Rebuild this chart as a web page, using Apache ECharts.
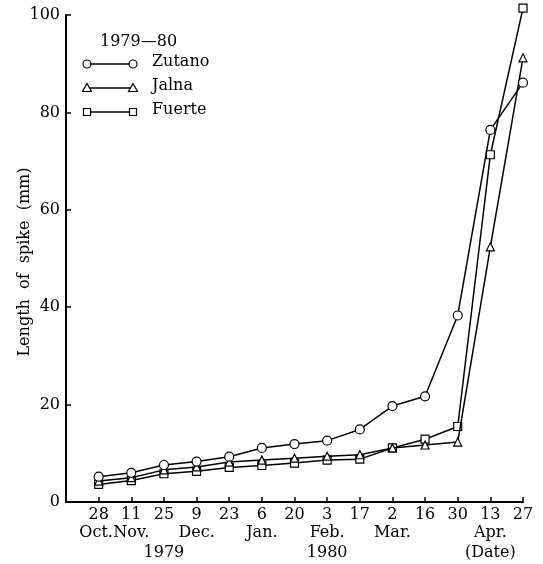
<!DOCTYPE html>
<html><head><meta charset="utf-8">
<script src="https://cdn.jsdelivr.net/npm/echarts@6/dist/echarts.min.js"></script>
<style>html,body{margin:0;padding:0;background:#fff}#c{width:543px;height:564px}</style>
</head><body><div id="c"></div>
<script>
const dates = ['28','11','25','9','23','6','20','3','17','2','16','30','13','27'];
const months = ['Oct. ','Nov.','','Dec.','','Jan.','','Feb.','','Mar.','','','Apr.',''];
const years = ['','','1979','','','','','1980','','','','','(Date)',''];
const zutano = [5.2,6.0,7.6,8.3,9.3,11.1,11.9,12.6,14.9,19.7,21.7,38.3,76.4,86.1];
const jalna  = [4.3,5.0,6.6,7.2,8.2,8.6,9.0,9.4,9.7,11.1,11.7,12.3,52.4,91.2];
const fuerte = [3.6,4.4,5.8,6.3,7.1,7.5,8.0,8.6,8.8,11.1,12.9,15.5,71.3,101.4];
const seriesNames = ['Zutano','Jalna','Fuerte'];
const legendTitle = '1979\u201480';
const yName = 'Length  of  spike  (mm)';

const FONT = 'DejaVu Serif';
const chart = echarts.init(document.getElementById('c'), null, {renderer:'canvas'});
const sym = ['circle','triangle','rect'];
const symSize = [9,8,8];
const dataSets = [zutano, jalna, fuerte];

function pick(arr){
  return (v)=>{ const i = Math.round(v); return (i>=0 && i<arr.length) ? arr[i] : ''; };
}

const lg = [];
lg.push({type:'text', left:100, top:34, style:{text:legendTitle, font:'16px "'+FONT+'"', fill:'#000'}});
const rowY = [64, 88, 112];
for (let k=0;k<3;k++){
  const y = rowY[k];
  lg.push({type:'line', shape:{x1:87,y1:y,x2:133,y2:y}, style:{stroke:'#000', lineWidth:1.5}});
  [87,133].forEach(x=>{
    if (k===0) lg.push({type:'circle', shape:{cx:x,cy:y,r:4}, style:{fill:'#fff',stroke:'#000',lineWidth:1.2}});
    else if (k===1) lg.push({type:'polygon', shape:{points:[[x,y-4.5],[x-4.5,y+3.5],[x+4.5,y+3.5]]}, style:{fill:'#fff',stroke:'#000',lineWidth:1.2}});
    else lg.push({type:'rect', shape:{x:x-3.5,y:y-3.5,width:7,height:7}, style:{fill:'#fff',stroke:'#000',lineWidth:1.2}});
  });
  lg.push({type:'text', left:152, top:y-10, style:{text:seriesNames[k], font:'16px "'+FONT+'"', fill:'#000'}});
}
lg.push({type:'text', x:25, y:262, rotation:Math.PI/2, style:{text:yName, font:'16px "'+FONT+'"', fill:'#000', textAlign:'center', textVerticalAlign:'middle'}});

const baseX = {type:'value', min:-1, max:13, interval:1, splitLine:{show:false}, position:'bottom'};
const lblStyle = {color:'#000', fontFamily:FONT, fontSize:16};

chart.setOption({
  animation:false,
  backgroundColor:'#fff',
  grid:{left:66, right:20, top:15, bottom:62, containLabel:false},
  xAxis:[
    Object.assign({}, baseX, {
      axisLine:{onZero:false, lineStyle:{color:'#000', width:2}},
      axisTick:{show:true, inside:true, length:5, lineStyle:{color:'#000', width:1.5}},
      axisLabel:Object.assign({formatter:pick(dates), margin:5, showMinLabel:false, showMaxLabel:true}, lblStyle)
    }),
    Object.assign({}, baseX, {
      axisLine:{show:false, onZero:false}, axisTick:{show:false},
      axisLabel:Object.assign({formatter:pick(months), margin:23, showMinLabel:false, showMaxLabel:false}, lblStyle)
    }),
    Object.assign({}, baseX, {
      axisLine:{show:false, onZero:false}, axisTick:{show:false},
      axisLabel:Object.assign({formatter:pick(years), margin:43, showMinLabel:false, showMaxLabel:false}, lblStyle)
    })
  ],
  yAxis:{
    type:'value', min:0, max:100, interval:20,
    axisLine:{show:true, onZero:false, lineStyle:{color:'#000', width:2}},
    axisTick:{show:true, inside:true, length:5, lineStyle:{color:'#000', width:1.5}},
    splitLine:{show:false},
    axisLabel:Object.assign({margin:6}, lblStyle)
  },
  graphic: lg,
  series: dataSets.map((d,k)=>({
    name: seriesNames[k], type:'line', xAxisIndex:0,
    data: d.map((v,i)=>[i,v]),
    symbol: sym[k], symbolSize: symSize[k], showAllSymbol:true,
    clip:false,
    lineStyle:{color:'#000', width:1.5},
    itemStyle:{color:'#fff', borderColor:'#000', borderWidth:1.2},
    z: 3-k
  }))
});
</script></body></html>
